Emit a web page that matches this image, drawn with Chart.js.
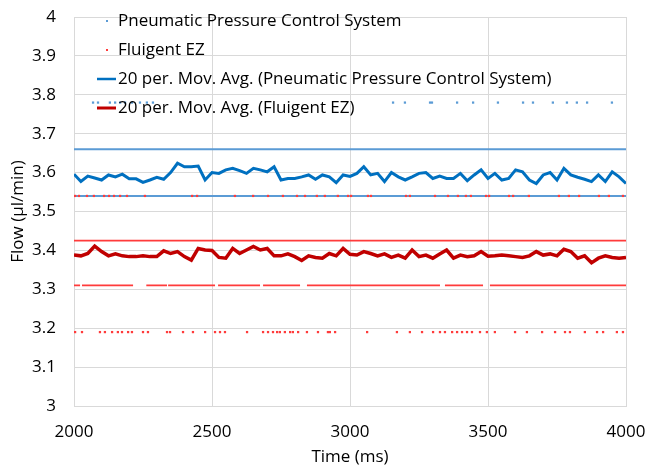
<!DOCTYPE html>
<html>
<head>
<meta charset="utf-8">
<script src="https://cdn.jsdelivr.net/npm/chart.js@4.4.1/dist/chart.umd.min.js"></script>
<style>
  html, body { margin: 0; padding: 0; background: #fff; }
  #wrap { width: 646px; height: 467px; position: relative; }
</style>
</head>
<body>
<div id="wrap"><canvas id="flowChart"></canvas></div>
<script>
// --- time axis for the moving averages (ms) ---
const timeMs = [
  2000, 2025, 2050, 2075, 2100, 2125, 2150, 2175, 2200, 2225, 2250, 2275, 2300, 2325, 2350, 2375, 2400, 2425, 2450, 2475,
  2500, 2525, 2550, 2575, 2600, 2625, 2650, 2675, 2700, 2725, 2750, 2775, 2800, 2825, 2850, 2875, 2900, 2925, 2950, 2975,
  3000, 3025, 3050, 3075, 3100, 3125, 3150, 3175, 3200, 3225, 3250, 3275, 3300, 3325, 3350, 3375, 3400, 3425, 3450, 3475,
  3500, 3525, 3550, 3575, 3600, 3625, 3650, 3675, 3700, 3725, 3750, 3775, 3800, 3825, 3850, 3875, 3900, 3925, 3950, 3975,
  4000
];

// 20 per. moving average, pneumatic system
const pneuAvg = [
  3.596, 3.577, 3.591, 3.586, 3.581, 3.594, 3.589, 3.596, 3.584, 3.584, 3.575, 3.581, 3.588, 3.583, 3.600, 3.624, 3.615, 3.615, 3.617, 3.581,
  3.600, 3.598, 3.607, 3.611, 3.605, 3.598, 3.611, 3.607, 3.602, 3.615, 3.581, 3.585, 3.585, 3.589, 3.594, 3.583, 3.594, 3.589, 3.574, 3.594,
  3.590, 3.598, 3.615, 3.594, 3.598, 3.577, 3.600, 3.589, 3.581, 3.589, 3.598, 3.600, 3.585, 3.591, 3.585, 3.585, 3.598, 3.579, 3.594, 3.607,
  3.585, 3.598, 3.581, 3.585, 3.607, 3.602, 3.581, 3.572, 3.594, 3.600, 3.581, 3.611, 3.594, 3.588, 3.583, 3.577, 3.594, 3.577, 3.602, 3.589,
  3.572
];

// 20 per. moving average, Fluigent EZ
const fluiAvg = [
  3.388, 3.386, 3.392, 3.411, 3.397, 3.386, 3.391, 3.386, 3.384, 3.384, 3.386, 3.384, 3.384, 3.399, 3.392, 3.397, 3.384, 3.375, 3.405, 3.401,
  3.400, 3.382, 3.380, 3.405, 3.392, 3.401, 3.410, 3.401, 3.405, 3.386, 3.386, 3.391, 3.384, 3.374, 3.386, 3.382, 3.380, 3.392, 3.386, 3.405,
  3.390, 3.388, 3.397, 3.392, 3.386, 3.391, 3.382, 3.388, 3.380, 3.401, 3.384, 3.388, 3.380, 3.391, 3.401, 3.380, 3.388, 3.384, 3.386, 3.397,
  3.385, 3.386, 3.388, 3.386, 3.384, 3.382, 3.386, 3.397, 3.388, 3.391, 3.386, 3.403, 3.397, 3.380, 3.386, 3.368, 3.380, 3.386, 3.382, 3.380,
  3.382
];

// raw readings: dense levels as [flow, start ms, end ms] runs, sparse levels as lists of times
const pneuRuns = [
  [3.66, 2000, 4000],
  [3.54, 2000, 4000]
];
const pneuDotsLevel = 3.78;
const pneuDotsTimes = [
  2069, 2087, 2130, 2149, 2167, 2185, 2210, 2239, 2264, 2286,
  3156, 3199, 3290, 3297, 3388, 3446, 3536, 3627, 3663, 3735, 3786, 3822, 3859, 3949
];

const fluiRuns = [
  [3.425, 2000, 4000],
  [3.31, 2000, 2022], [3.31, 2029, 2214], [3.31, 2262, 2337], [3.31, 2341, 2511], [3.31, 2522, 2674],
  [3.31, 2685, 2819], [3.31, 2844, 3326], [3.31, 3344, 3482], [3.31, 3507, 4000]
];
const fluiLowLevel = 3.19;
const fluiLowTimes = [
  2004, 2029, 2094, 2112, 2138, 2159, 2174, 2196, 2210, 2250, 2268, 2337, 2348, 2395, 2431, 2475,
  2511, 2529, 2547, 2627, 2685, 2703, 2721, 2736, 2746, 2764, 2783, 2793, 2812, 2844, 2884, 2920,
  2927, 2946, 3062, 3170, 3217, 3261, 3301, 3326, 3344, 3370, 3388, 3406, 3424, 3442, 3471, 3496,
  3525, 3598, 3641, 3696, 3743, 3779, 3797, 3851, 3895, 3917, 3967, 3989
];
const fluiHighLevel = 3.54;
const fluiHighTimes = [
  2004, 2018, 2047, 2072, 2109, 2127, 2145, 2167, 2192, 2257, 2428, 2446, 2583, 2649, 2703, 2757,
  2808, 2837, 2880, 2909, 2956, 2993, 3004, 3065, 3076, 3203, 3217, 3308, 3355, 3391, 3420, 3438,
  3493, 3504, 3576, 3591, 3648, 3757, 3793, 3830, 3902, 3938, 3989
];

const xTicks = [2000, 2500, 3000, 3500, 4000];
const legendLabels = [
  'Pneumatic Pressure Control System',
  'Fluigent EZ',
  '20 per. Mov. Avg. (Pneumatic Pressure Control System)',
  '20 per. Mov. Avg. (Fluigent EZ)'
];

const FONT = "'Open Sans', sans-serif";
const FONT_SIZE = 17;
const C_PNEU = '#5b9bd5';
const C_PNEU_AVG = '#0070c0';
const C_FLUI = '#ff3b3b';
const C_FLUI_AVG = '#c00000';

function runsToPoints(runs) {
  const pts = [];
  runs.forEach(([lvl, a, b]) => {
    pts.push({ x: a, y: lvl }, { x: b, y: lvl }, { x: b, y: null });
  });
  return pts;
}

const dots = (times, lvl) => times.map(t => ({ x: t, y: lvl }));
const avgPoints = vals => vals.map((v, i) => ({ x: timeMs[i], y: v }));

// simple legend drawn inside the plot, like the spreadsheet original
const insideLegend = {
  id: 'insideLegend',
  afterDatasetsDraw(chart) {
    const ctx = chart.ctx;
    const rows = [21, 50, 79, 108];
    ctx.save();
    ctx.font = `${FONT_SIZE}px ${FONT}`;
    ctx.textBaseline = 'middle';
    ctx.textAlign = 'left';
    legendLabels.forEach((txt, i) => {
      const y = rows[i];
      if (i < 2) {
        ctx.fillStyle = i === 0 ? C_PNEU : C_FLUI;
        ctx.fillRect(106, y - 1, 2, 2);
      } else {
        ctx.strokeStyle = i === 2 ? C_PNEU_AVG : C_FLUI_AVG;
        ctx.lineWidth = i === 2 ? 2.5 : 3;
        ctx.beginPath();
        ctx.moveTo(97, y);
        ctx.lineTo(116, y);
        ctx.stroke();
      }
      ctx.fillStyle = '#000';
      ctx.fillText(txt, 118, y);
    });
    ctx.restore();
  }
};

const chart = new Chart(document.getElementById('flowChart'), {
  type: 'line',
  data: {
    datasets: [
      {
        label: legendLabels[3],
        data: avgPoints(fluiAvg),
        borderColor: C_FLUI_AVG,
        borderWidth: 3.5,
        pointRadius: 0,
        tension: 0,
        order: 0
      },
      {
        label: legendLabels[2],
        data: avgPoints(pneuAvg),
        borderColor: C_PNEU_AVG,
        borderWidth: 3,
        pointRadius: 0,
        tension: 0,
        order: 1
      },
      {
        label: legendLabels[1] + ' upper',
        type: 'scatter',
        data: dots(fluiHighTimes, fluiHighLevel),
        backgroundColor: C_FLUI,
        borderWidth: 0,
        pointStyle: 'rect',
        pointRadius: 1.6,
        order: 2
      },
      {
        label: legendLabels[1] + ' lower',
        type: 'scatter',
        data: dots(fluiLowTimes, fluiLowLevel),
        backgroundColor: C_FLUI,
        borderWidth: 0,
        pointStyle: 'rect',
        pointRadius: 1.6,
        order: 3
      },
      {
        label: legendLabels[1],
        data: runsToPoints(fluiRuns),
        borderColor: C_FLUI,
        borderWidth: 1.8,
        pointRadius: 0,
        spanGaps: false,
        order: 4
      },
      {
        label: legendLabels[0] + ' upper',
        type: 'scatter',
        data: dots(pneuDotsTimes, pneuDotsLevel),
        backgroundColor: C_PNEU,
        borderWidth: 0,
        pointStyle: 'rect',
        pointRadius: 1.6,
        order: 5
      },
      {
        label: legendLabels[0],
        data: runsToPoints(pneuRuns),
        borderColor: C_PNEU,
        borderWidth: 2,
        pointRadius: 0,
        spanGaps: false,
        order: 6
      }
    ]
  },
  options: {
    responsive: true,
    maintainAspectRatio: false,
    animation: false,
    layout: { padding: { top: 17, right: 20, left: 0, bottom: 0 } },
    plugins: {
      legend: { display: false },
      tooltip: { enabled: false }
    },
    scales: {
      x: {
        type: 'linear',
        min: 2000,
        max: 4000,
        afterFit: s => { s.height = 61; s.paddingLeft = 0; s.paddingRight = 0; },
        afterBuildTicks: s => { s.ticks = xTicks.map(v => ({ value: v })); },
        grid: { color: '#d9d9d9', drawTicks: false },
        border: { color: '#d9d9d9' },
        ticks: {
          color: '#000',
          font: { family: FONT, size: FONT_SIZE },
          padding: 16,
          maxRotation: 0,
          callback: v => String(v)
        },
        title: {
          display: true,
          text: 'Time (ms)',
          color: '#000',
          font: { family: FONT, size: FONT_SIZE },
          padding: { top: 0, bottom: 0 }
        }
      },
      y: {
        min: 3,
        max: 4,
        afterFit: s => { s.width = 74; s.paddingTop = 0; s.paddingBottom = 0; },
        grid: { color: '#d9d9d9', drawTicks: false },
        border: { color: '#d9d9d9' },
        ticks: {
          stepSize: 0.1,
          color: '#000',
          font: { family: FONT, size: FONT_SIZE },
          padding: 18,
          callback: v => String(Number(v.toFixed(1)))
        },
        title: {
          display: true,
          text: 'Flow (µl/min)',
          color: '#000',
          font: { family: FONT, size: FONT_SIZE },
          padding: { top: 8, bottom: 0 }
        }
      }
    }
  },
  plugins: [insideLegend]
});
</script>
</body>
</html>
